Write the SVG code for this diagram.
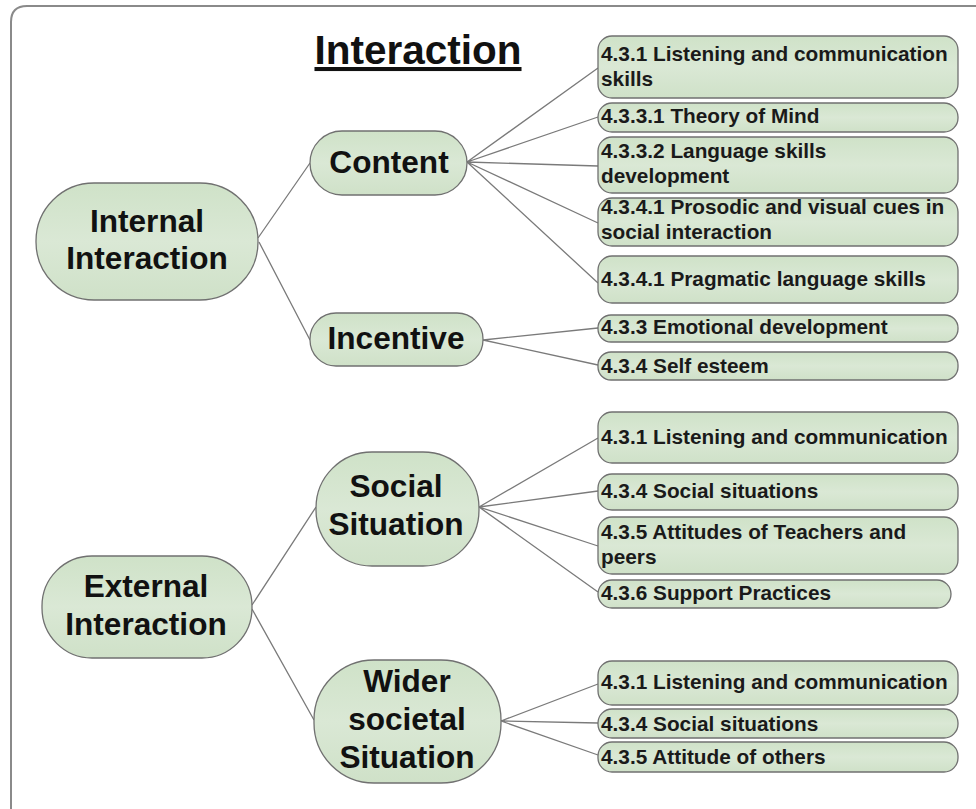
<svg xmlns="http://www.w3.org/2000/svg" width="976" height="809" viewBox="0 0 976 809">
<defs>
<linearGradient id="g" x1="0" y1="0" x2="0" y2="1">
<stop offset="0" stop-color="#cfe2c8"/>
<stop offset="0.5" stop-color="#dae8d5"/>
<stop offset="1" stop-color="#cfe1c8"/>
</linearGradient>
</defs>
<style>
.n{fill:url(#g);stroke:#707070;stroke-width:1.3}
.big{font-family:"Liberation Sans",Arial,sans-serif;font-weight:bold;font-size:31.6px;fill:#111;text-anchor:middle}
.lf{font-family:"Liberation Sans",Arial,sans-serif;font-weight:bold;font-size:20.8px;fill:#1a1a1a}
.c{stroke:#7a7a7a;stroke-width:1.3;fill:none}
</style>
<rect width="976" height="809" fill="#ffffff"/>
<path d="M11 809 L11 22 Q11 6 27 6 L976 6" fill="none" stroke="#8a8a8a" stroke-width="2"/>
<text x="418" y="64" font-family="Liberation Sans,Arial,sans-serif" font-weight="bold" font-size="40.5" text-anchor="middle" fill="#111" text-decoration="underline">Interaction</text>
<g id="connectors">
<path class="c" d="M258 238 L310 163 M259 242 L310 340"/>
<path class="c" d="M467 162 L598 68 M467 162 L598 117 M467 162 L598 166 M467 162 L598 223 M467 162 L598 283"/>
<path class="c" d="M483 340 L598 328 M483 340 L598 365"/>
<path class="c" d="M252 605 L316 507 M252 609 L314 720"/>
<path class="c" d="M479 507 L598 438 M479 507 L598 491 M479 507 L598 546 M479 507 L598 592"/>
<path class="c" d="M501 721 L598 684 M501 721 L598 723 M501 721 L598 755"/>
</g>
<g id="internal"><rect class="n" x="36" y="183" width="222" height="117" rx="58" ry="58"/><text class="big" x="147" y="232">Internal</text><text class="big" x="147" y="269">Interaction</text></g>
<g id="content"><rect class="n" x="310" y="131" width="157" height="64" rx="32" ry="32"/><text class="big" x="389" y="173">Content</text></g>
<g id="incentive"><rect class="n" x="310" y="313" width="173" height="53" rx="26" ry="26"/><text class="big" x="396" y="349">Incentive</text></g>
<g id="external"><rect class="n" x="42" y="556" width="210" height="102" rx="50" ry="50"/><text class="big" x="146" y="597">External</text><text class="big" x="146" y="635">Interaction</text></g>
<g id="social"><rect class="n" x="316" y="452" width="163" height="114" rx="56" ry="56"/><text class="big" x="396" y="497">Social</text><text class="big" x="396" y="535">Situation</text></g>
<g id="wider"><rect class="n" x="314" y="660" width="187" height="123" rx="60" ry="60"/><text class="big" x="407" y="692">Wider</text><text class="big" x="407" y="730">societal</text><text class="big" x="407" y="768">Situation</text></g>
<g id="l1"><rect class="n" x="598" y="36" width="360" height="62" rx="14"/><text class="lf" x="601" y="61">4.3.1 Listening and communication</text><text class="lf" x="601" y="86">skills</text></g>
<g id="l2"><rect class="n" x="598" y="103" width="360" height="29" rx="14"/><text class="lf" x="601" y="123">4.3.3.1 Theory of Mind</text></g>
<g id="l3"><rect class="n" x="598" y="137" width="360" height="56" rx="14"/><text class="lf" x="601" y="158">4.3.3.2 Language skills</text><text class="lf" x="601" y="183">development</text></g>
<g id="l4"><rect class="n" x="598" y="198" width="360" height="48" rx="14"/><text class="lf" x="601" y="214">4.3.4.1 Prosodic and visual cues in</text><text class="lf" x="601" y="239">social interaction</text></g>
<g id="l5"><rect class="n" x="598" y="256" width="360" height="47" rx="14"/><text class="lf" x="601" y="286">4.3.4.1 Pragmatic language skills</text></g>
<g id="l6"><rect class="n" x="598" y="315" width="360" height="27" rx="13"/><text class="lf" x="601" y="334">4.3.3 Emotional development</text></g>
<g id="l7"><rect class="n" x="598" y="352" width="360" height="28" rx="13"/><text class="lf" x="601" y="373">4.3.4 Self esteem</text></g>
<g id="l8"><rect class="n" x="598" y="412" width="360" height="51" rx="14"/><text class="lf" x="601" y="444">4.3.1 Listening and communication</text></g>
<g id="l9"><rect class="n" x="598" y="474" width="360" height="36" rx="14"/><text class="lf" x="601" y="498">4.3.4 Social situations</text></g>
<g id="l10"><rect class="n" x="598" y="517" width="360" height="57" rx="14"/><text class="lf" x="601" y="539">4.3.5 Attitudes of Teachers and</text><text class="lf" x="601" y="564">peers</text></g>
<g id="l11"><rect class="n" x="598" y="580" width="353" height="28" rx="14"/><text class="lf" x="601" y="600">4.3.6 Support Practices</text></g>
<g id="l12"><rect class="n" x="598" y="661" width="360" height="44" rx="14"/><text class="lf" x="601" y="689">4.3.1 Listening and communication</text></g>
<g id="l13"><rect class="n" x="598" y="709" width="360" height="29" rx="14"/><text class="lf" x="601" y="731">4.3.4 Social situations</text></g>
<g id="l14"><rect class="n" x="598" y="742" width="360" height="30" rx="14"/><text class="lf" x="601" y="764">4.3.5 Attitude of others</text></g>
</svg>
